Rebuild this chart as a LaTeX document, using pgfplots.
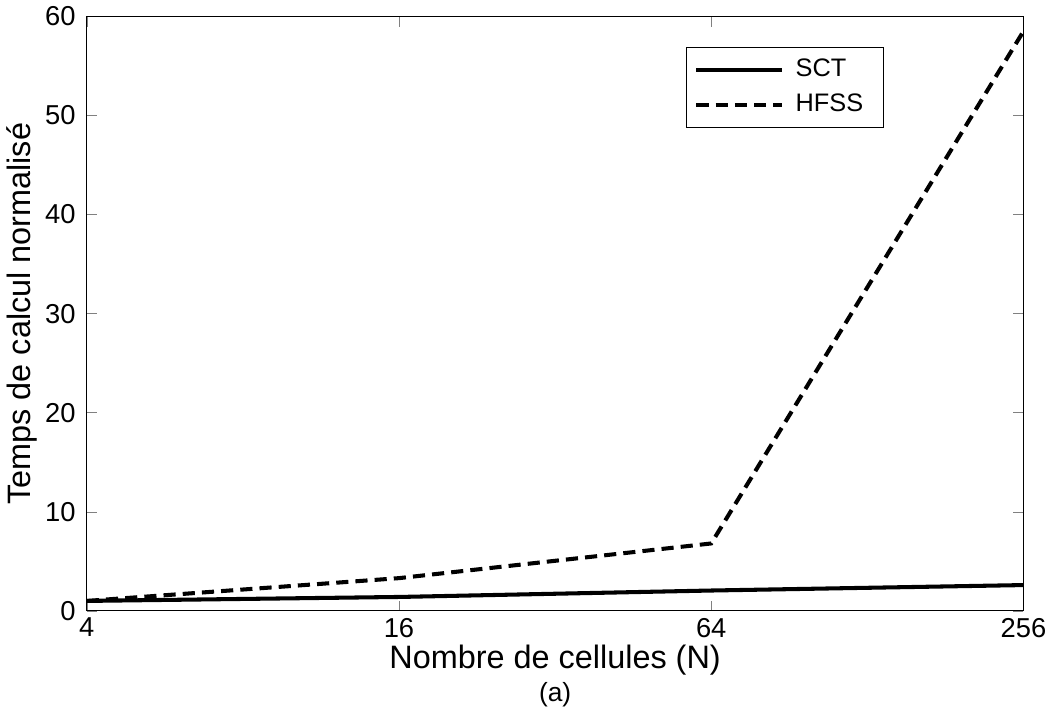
\documentclass[border=0pt]{standalone}
\usepackage{pgfplots}
\pgfplotsset{compat=1.18}
\usepackage{fontspec}
\setmainfont{Liberation Sans}
\begin{document}
\begin{tikzpicture}
\begin{axis}[
  width=462.5pt, height=293.5pt, scale only axis,
  xmode=log, log basis x=2,
  xmin=4, xmax=256, ymin=0, ymax=60,
  xtick={4,16,64,256}, xticklabels={4,16,64,256},
  ytick={0,10,...,60},
  tick align=inside, major tick length=5pt,
  /pgf/number format/assume math mode=true,
  ticklabel style={font=\fontsize{13.5}{16}\selectfont},
  yticklabel style={xshift=-2pt},
  xlabel={Nombre de cellules (N)\\[-3pt]{\fontsize{13}{15}\selectfont (a)}},
  ylabel={Temps de calcul normalisé},
  label style={font=\fontsize{16}{19}\selectfont},
  xlabel style={align=center, yshift=3pt},
  ylabel style={yshift=-3pt},
  axis line style={line width=0.6pt},
  legend style={at={(0.851,0.949)}, anchor=north east, draw=black,
    font=\fontsize{12.5}{15}\selectfont, inner sep=4pt, row sep=3pt,
    cells={anchor=west}, nodes={inner xsep=6pt}},
  legend image code/.code={\draw[#1] (0pt,0pt) -- (42pt,0pt);},
]
\addplot[black, line width=2pt] coordinates {(4,1) (16,1.4) (64,2.05) (256,2.6)};
\addlegendentry{SCT}
\addplot[black, line width=2pt, dash pattern=on 6pt off 3.5pt] coordinates {(4,1) (16,3.3) (64,6.8) (256,58.5)};
\addlegendentry{HFSS}
\end{axis}
\end{tikzpicture}
\end{document}
